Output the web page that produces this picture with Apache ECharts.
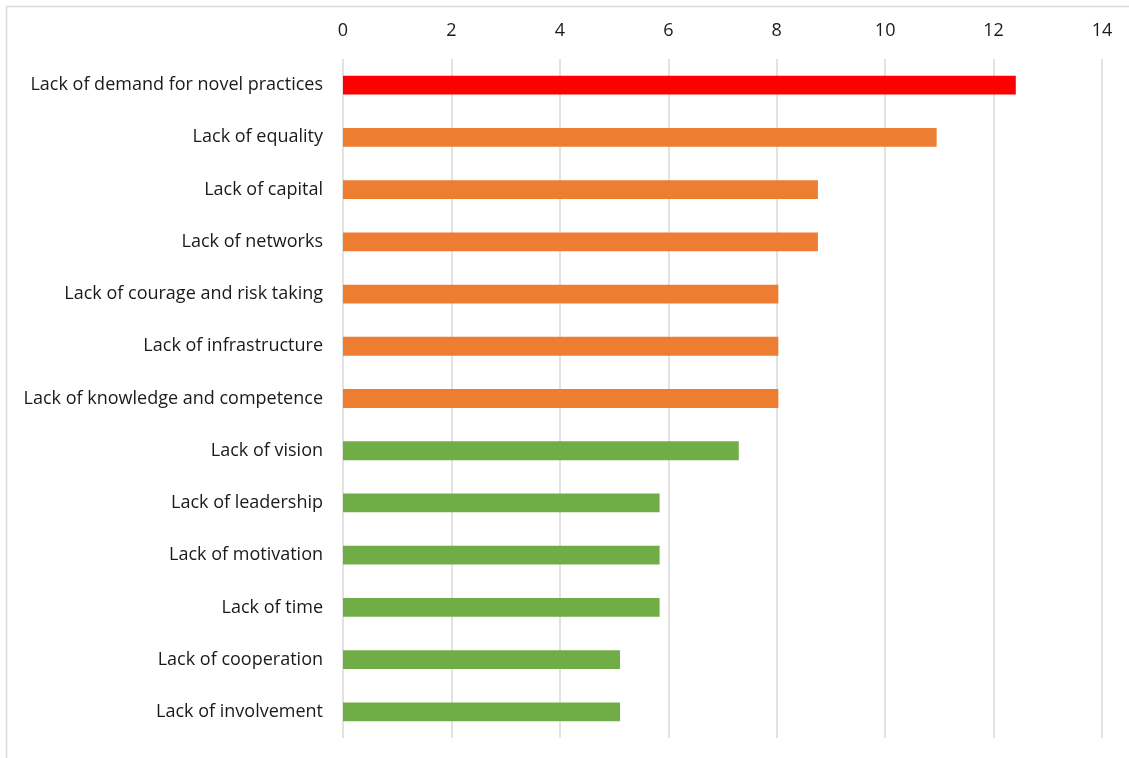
<!DOCTYPE html>
<html>
<head>
<meta charset="utf-8">
<script src="https://cdn.jsdelivr.net/npm/echarts@6/dist/echarts.min.js"></script>
<style>
  html, body { margin: 0; padding: 0; background: #fff; }
  #chart { width: 1129px; height: 758px; }
</style>
</head>
<body>
<div id="chart"></div>
<script>
// Barriers, in the order they are listed top to bottom
const categories = [
  'Lack of demand for novel practices',
  'Lack of equality',
  'Lack of capital',
  'Lack of networks',
  'Lack of courage and risk taking',
  'Lack of infrastructure',
  'Lack of knowledge and competence',
  'Lack of vision',
  'Lack of leadership',
  'Lack of motivation',
  'Lack of time',
  'Lack of cooperation',
  'Lack of involvement'
];
const values = [12.41, 10.95, 8.76, 8.76, 8.03, 8.03, 8.03, 7.30, 5.84, 5.84, 5.84, 5.11, 5.11];
// Tier of each bar: 0 = top, 1 = middle, 2 = lower
const tiers = [0, 1, 1, 1, 1, 1, 1, 2, 2, 2, 2, 2, 2];
const tierColors = ['#FF0000', '#ED7D31', '#70AD47'];
const xTicks = [0, 2, 4, 6, 8, 10, 12, 14];

const chart = echarts.init(document.getElementById('chart'));
const font = '"Open Sans", "Liberation Sans", sans-serif';

chart.setOption({
  animation: false,
  backgroundColor: '#fff',
  graphic: [{
    type: 'rect',
    shape: { x: 6.5, y: 6.5, width: 1140, height: 770 },
    style: { fill: 'none', stroke: '#d9d9d9', lineWidth: 1.5 },
    silent: true
  }],
  grid: { left: 343, right: 27, top: 59, bottom: 20, containLabel: false },
  xAxis: {
    type: 'value',
    position: 'top',
    min: xTicks[0],
    max: xTicks[xTicks.length - 1],
    interval: 2,
    axisLine: { show: false },
    axisTick: { show: false },
    axisLabel: { color: '#1a1a1a', fontSize: 18, fontFamily: font, margin: 19 },
    splitLine: { show: true, lineStyle: { color: '#d9d9d9', width: 1.5 } }
  },
  yAxis: {
    type: 'category',
    inverse: true,
    data: categories,
    axisLine: { show: false },
    axisTick: { show: false },
    axisLabel: { color: '#1a1a1a', fontSize: 18, fontFamily: font, margin: 20 }
  },
  series: [{
    type: 'bar',
    barWidth: '36%',
    data: values.map((v, i) => ({ value: v, itemStyle: { color: tierColors[tiers[i]] } }))
  }]
});
</script>
</body>
</html>
